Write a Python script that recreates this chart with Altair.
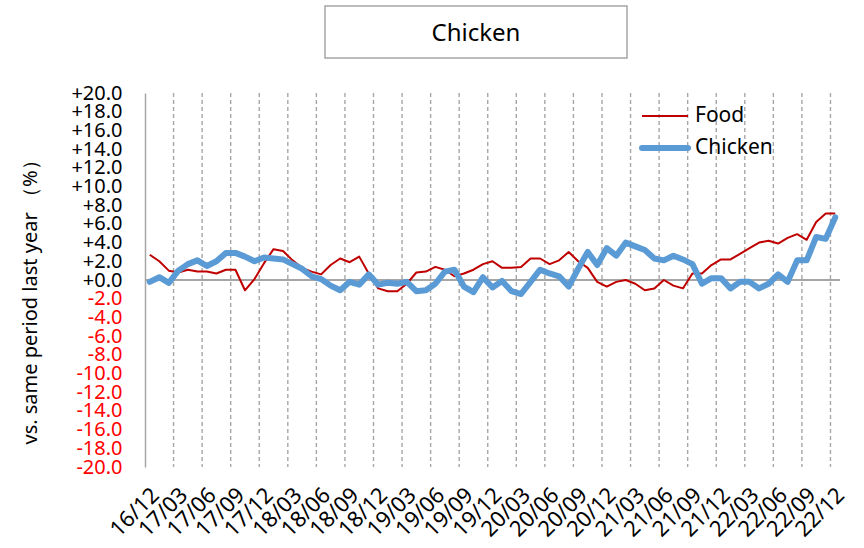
import json
import altair as alt
import pandas as pd

# Year-on-year change (%), monthly, 2016/12 .. 2022/12
food = [2.7, 2.0, 1.0, 0.8, 1.1, 0.9, 0.9, 0.7, 1.1, 1.1, -1.1, 0.1,
        1.8, 3.3, 3.1, 2.1, 1.3, 0.9, 0.6, 1.6, 2.3, 1.9, 2.5, 0.7,
        -0.9, -1.2, -1.2, -0.4, 0.8, 0.9, 1.4, 1.1, 0.4, 0.7, 1.1, 1.7,
        2.0, 1.3, 1.3, 1.4, 2.3, 2.3, 1.7, 2.1, 3.0, 2.0, 1.3, -0.2,
        -0.7, -0.2, 0.0, -0.4, -1.1, -0.9, 0.0, -0.6, -0.9, 0.7, 0.7, 1.6,
        2.2, 2.2, 2.8, 3.4, 4.0, 4.2, 3.9, 4.5, 4.9, 4.3, 6.2, 7.1,
        7.1]
chicken = [-0.2, 0.3, -0.3, 1.0, 1.7, 2.1, 1.5, 2.0, 2.9, 2.9, 2.5, 2.0,
           2.4, 2.3, 2.2, 1.7, 1.2, 0.4, 0.1, -0.6, -1.1, -0.2, -0.5, 0.6,
           -0.5, -0.3, -0.4, -0.2, -1.2, -1.1, -0.4, 0.9, 1.1, -0.7, -1.3, 0.3,
           -0.8, -0.1, -1.2, -1.5, -0.2, 1.1, 0.7, 0.4, -0.7, 1.2, 3.0, 1.6,
           3.4, 2.6, 4.0, 3.6, 3.2, 2.3, 2.1, 2.6, 2.2, 1.7, -0.4, 0.2,
           0.2, -0.9, -0.2, -0.2, -0.9, -0.4, 0.6, -0.2, 2.1, 2.1, 4.6, 4.4,
           6.7]
# Quarterly tick labels (every third month)
tick_labels = ["16/12", "17/03", "17/06", "17/09", "17/12", "18/03", "18/06",
               "18/09", "18/12", "19/03", "19/06", "19/09", "19/12", "20/03",
               "20/06", "20/09", "20/12", "21/03", "21/06", "21/09", "21/12",
               "22/03", "22/06", "22/09", "22/12"]
series_names = ["Food", "Chicken"]
series_colors = ["#C00000", "#5B9BD5"]

FONT = "Noto Sans"
GRID = "#A6A6A6"

n = len(food)
months = list(range(n))
tick_pos = [3 * k for k in range(len(tick_labels))]
# dashed separators sit between categories, every quarter
grid_pos = [3 * k - 0.5 for k in range(1, len(tick_labels))]

xscale = alt.Scale(domain=[-0.5, n - 0.5], nice=False, zero=False)
yscale = alt.Scale(domain=[-20, 20], nice=False, zero=False)

food_df = pd.DataFrame({"month": months, "value": food})
chick_df = pd.DataFrame({"month": months, "value": chicken})
grid_df = pd.DataFrame({"g": grid_pos})

x_axis = alt.Axis(
    values=tick_pos,
    labelExpr=f"{json.dumps(tick_labels)}[round(datum.value / 3)]",
    labelAngle=-45, labelFontSize=22, labelFont=FONT, labelColor="black",
    labelAlign="right", labelBaseline="top",
    labelPadding=17, labelOffset=-2, labelOverlap=False,
    grid=False, ticks=False, domain=False, title=None,
)
y_axis = alt.Axis(
    values=list(range(-20, 21, 2)),
    labelExpr="(datum.value >= 0 ? '+' : '-') + format(abs(datum.value), '.1f')",
    labelColor={"condition": {"test": "datum.value < 0", "value": "#FF0000"},
                "value": "black"},
    labelFontSize=20, labelFont=FONT, labelPadding=23, labelOverlap=False,
    grid=False, ticks=False, domainColor=GRID, domainWidth=1.5,
    title="vs. same period last year （%）", titleFont=FONT, titleFontSize=20,
    titleFontWeight="normal", titleColor="black",
    titleX=-115, titleY=204, titleAlign="center", titleBaseline="middle",
)

grid = alt.Chart(grid_df).mark_rule(
    color=GRID, strokeWidth=1.4, strokeDash=[4, 3]
).encode(x=alt.X("g:Q", scale=xscale, axis=x_axis))

zero = alt.Chart(grid_df).mark_rule(color=GRID, strokeWidth=1.5).encode(
    y=alt.datum(0, scale=yscale, axis=y_axis)
)

food_line = alt.Chart(food_df).mark_line(
    color=series_colors[0], strokeWidth=2, strokeJoin="round"
).encode(
    x=alt.X("month:Q", scale=xscale, axis=x_axis),
    y=alt.Y("value:Q", scale=yscale, axis=y_axis),
)

chick_line = alt.Chart(chick_df).mark_line(
    color=series_colors[1], strokeWidth=6, strokeJoin="round", strokeCap="round"
).encode(
    x=alt.X("month:Q", scale=xscale, axis=x_axis),
    y=alt.Y("value:Q", scale=yscale, axis=y_axis),
)

# boxed chart title
title_df = pd.DataFrame({"t": ["Chicken"]})
title_box = alt.Chart(title_df).mark_rect(
    fill="white", stroke=GRID, strokeWidth=1.5
).encode(x=alt.value(180), x2=alt.value(482), y=alt.value(-87), y2=alt.value(-35))
title_text = alt.Chart(title_df).mark_text(
    font=FONT, fontSize=24, color="black", baseline="middle", align="center"
).encode(x=alt.value(331), y=alt.value(-59), text="t:N")


def legend_entry(name, color, width, ypos):
    d = pd.DataFrame({"s": [name]})
    sym = alt.Chart(d).mark_rule(
        color=color, strokeWidth=width, strokeCap="round" if width > 3 else "butt"
    ).encode(x=alt.value(497), x2=alt.value(543), y=alt.value(ypos))
    lab = alt.Chart(d).mark_text(
        font=FONT, fontSize=21, color="black", align="left", baseline="middle"
    ).encode(x=alt.value(550), y=alt.value(ypos), text="s:N")
    return sym + lab


legend = legend_entry(series_names[0], series_colors[0], 2, 23) + \
    legend_entry(series_names[1], series_colors[1], 6, 55)

chart = alt.layer(
    grid, zero, food_line, chick_line, title_box, title_text, legend
).properties(
    width=695, height=374,
    autosize=alt.AutoSizeParams(type="none"),
    padding={"left": 145, "top": 93, "right": 24, "bottom": 81},
    background="white",
).configure_view(strokeWidth=0)

chart.save("out.html", embed_options={"renderer": "svg", "actions": False})
